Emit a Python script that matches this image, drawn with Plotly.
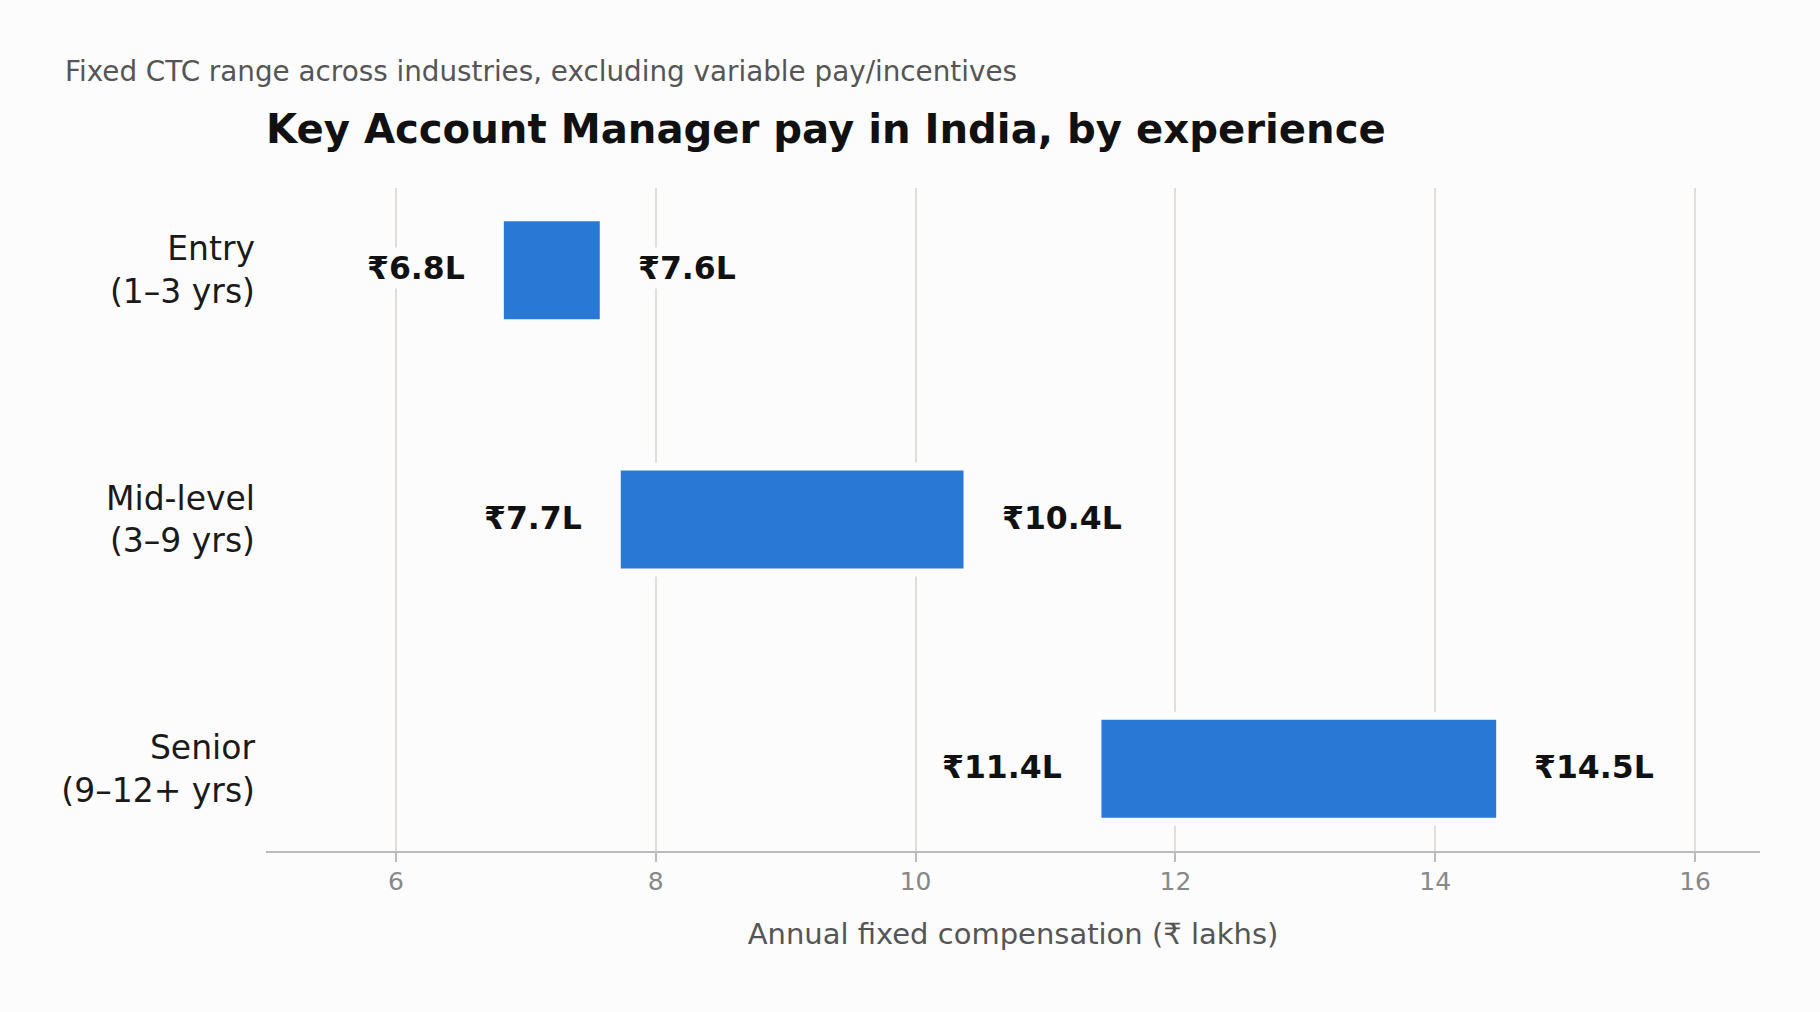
import plotly.graph_objects as go

# data
levels = ["Entry<br>(1–3 yrs)", "Mid-level<br>(3–9 yrs)", "Senior<br>(9–12+ yrs)"]
low_pay = [6.8, 7.7, 11.4]
high_pay = [7.6, 10.4, 14.5]
low_labels = ["₹6.8L", "₹7.7L", "₹11.4L"]
high_labels = ["₹7.6L", "₹10.4L", "₹14.5L"]
x_ticks = [6, 8, 10, 12, 14, 16]

BG = "#fcfcfc"
BLUE = "#2a78d6"
FONT = "DejaVu Sans"

fig = go.Figure()

fig.add_trace(go.Bar(
    y=levels,
    x=[h - l for l, h in zip(low_pay, high_pay)],
    base=low_pay,
    orientation="h",
    width=0.425,
    marker=dict(color=BLUE, line=dict(color=BG, width=8)),
    hoverinfo="skip",
))

# min / max labels either side of each bar
for lvl, lo, hi, lt, ht in zip(levels, low_pay, high_pay, low_labels, high_labels):
    fig.add_annotation(x=lo, y=lvl, text="<b>" + lt + "</b>", showarrow=False,
                       xanchor="right", xshift=-32, yshift=2, bgcolor=BG, borderpad=2,
                       font=dict(family=FONT, size=31.5, color="#111111"))
    fig.add_annotation(x=hi, y=lvl, text="<b>" + ht + "</b>", showarrow=False,
                       xanchor="left", xshift=31, yshift=2, bgcolor=BG, borderpad=2,
                       font=dict(family=FONT, size=31.5, color="#111111"))

# subtitle above the title
fig.add_annotation(text="Fixed CTC range across industries, excluding variable pay/incentives",
                   xref="paper", yref="paper", x=-0.136, y=1.176,
                   xanchor="left", yanchor="middle", showarrow=False,
                   font=dict(family=FONT, size=27.8, color="#555555"))

fig.update_layout(
    width=1820, height=1012,
    paper_bgcolor=BG, plot_bgcolor=BG,
    margin=dict(l=266, r=60, t=188, b=161),
    showlegend=False,
    title=dict(text="<b>Key Account Manager pay in India, by experience</b>",
               x=266 / 1820, xanchor="left", xref="container",
               y=1 - 129 / 1012, yanchor="middle", yref="container",
               font=dict(family=FONT, size=40.2, color="#111111")),
    font=dict(family=FONT),
)

fig.update_xaxes(
    range=[5, 16.5], tickvals=x_ticks,
    showgrid=True, gridcolor="#e0ded6", gridwidth=1.5,
    showline=True, linecolor="#bbbbbb", linewidth=2,
    ticks="outside", ticklen=9, tickcolor="#bbbbbb", tickwidth=1.5,
    tickfont=dict(family=FONT, size=25, color="#888888"),
    ticklabelstandoff=-2,
    zeroline=False,
    title=dict(text="Annual fixed compensation (₹ lakhs)", standoff=29,
               font=dict(family=FONT, size=29, color="#555555")),
)

fig.update_yaxes(
    range=[2.33, -0.33],
    showgrid=False, showline=False, zeroline=False,
    ticks="", ticklabelstandoff=10,
    tickfont=dict(family=FONT, size=33, color="#1a1a1a"),
)

fig.write_html("out.html", config={"displayModeBar": False},
               post_script="document.body.style.margin='0';")
